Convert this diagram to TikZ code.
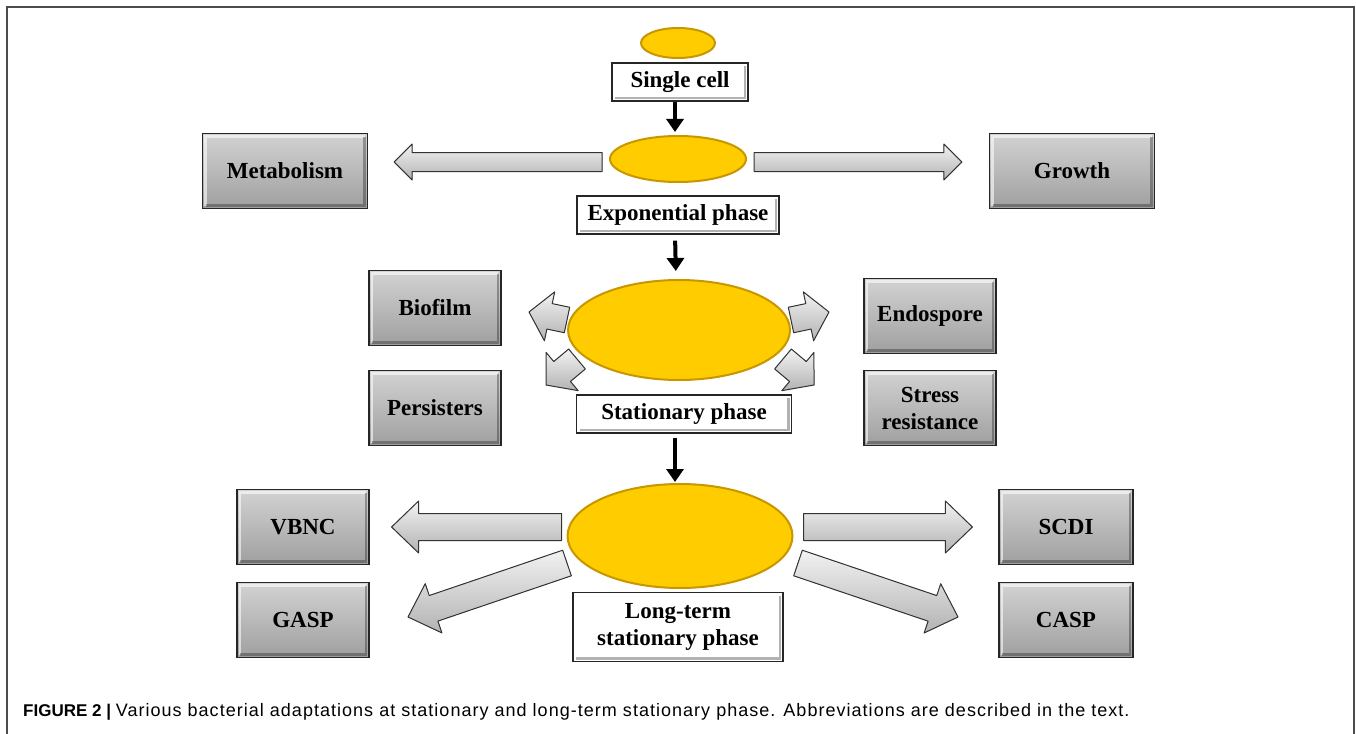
\documentclass[tikz,border=0pt]{standalone}
\usepackage{fontspec}
\setmainfont{Liberation Serif}
\newfontfamily\capfont{Liberation Sans}
\usepackage{tikz}
\usetikzlibrary{arrows.meta}
\usetikzlibrary{calc}
\usetikzlibrary{shapes.geometric}
\definecolor{gold}{RGB}{255,204,0}
\definecolor{darkgold}{RGB}{200,150,0}
\colorlet{frame}{black!70}
\newcommand\bevel{%
  \draw[white,opacity=.6,line width=2.5pt] ([shift={(3pt,3pt)}]path picture bounding box.south west) -- ([shift={(3pt,-3pt)}]path picture bounding box.north west) -- ([shift={(-3pt,-3pt)}]path picture bounding box.north east);
  \draw[black,opacity=.3,line width=2.5pt] ([shift={(-3pt,-3pt)}]path picture bounding box.north east) -- ([shift={(-3pt,3pt)}]path picture bounding box.south east) -- ([shift={(3pt,3pt)}]path picture bounding box.south west);}
\tikzstyle{graybox}=[rectangle,draw=black!85,line width=1.2pt,top color=gray!35,bottom color=gray!75,minimum width=132pt,minimum height=75pt,align=center,font=\fontsize{23}{27}\selectfont\bfseries,path picture={\bevel}]
\tikzstyle{labelbox}=[rectangle,draw=black!85,line width=1.2pt,fill=white,minimum height=38pt,align=center,font=\fontsize{23}{27}\selectfont\bfseries,path picture={\bevel}]
\tikzstyle{cell}=[ellipse,fill=gold,draw=darkgold,line width=2pt,inner sep=0pt]
\tikzstyle{down}=[line width=4pt,-{Triangle[length=13pt,width=17pt]}]
\tikzstyle{blk}=[draw=black!80,line width=1pt,top color=gray!10,bottom color=gray!60,line join=round]
% block arrow: from, to, half shaft, half head, head length
\newcommand\blkarrow[5]{%
  \path (#1); \pgfgetlastxy\ax\ay
  \path (#2); \pgfgetlastxy\bx\by
  \pgfmathsetmacro\arang{atan2(\by-\ay,\bx-\ax)}
  \pgfmathsetmacro\arlen{veclen(\bx-\ax,\by-\ay)}
  \filldraw[blk,shift={(\ax,\ay)},rotate=\arang] (0pt,#3pt) -- (\arlen pt-#5pt,#3pt) -- (\arlen pt-#5pt,#4pt) -- (\arlen pt,0pt) -- (\arlen pt-#5pt,-#4pt) -- (\arlen pt-#5pt,-#3pt) -- (0pt,-#3pt) -- cycle;}

\begin{document}
\begin{tikzpicture}[x=1pt,y=-1pt]
	\useasboundingbox (0,0) rectangle (1356,733);
	\draw[frame,line width=2pt] (7,745) -- (7,7) -- (1354,7) -- (1354,745);
	% cells and phases
	\node[cell,minimum width=74pt,minimum height=30pt]  (e1) at (678,43)  {};
	\node[labelbox,minimum width=136pt] (single) at (680,82)  {Single cell};
	\node[cell,minimum width=136pt,minimum height=46pt] (e2) at (678,159) {};
	\node[labelbox,minimum width=202pt] (expo)   at (678,215) {Exponential phase};
	\node[cell,minimum width=222pt,minimum height=100pt] (e3) at (679,330) {};
	\node[labelbox,minimum width=215pt] (stat)   at (684,414) {Stationary phase};
	\node[cell,minimum width=225pt,minimum height=104pt] (e4) at (680,536) {};
	\node[labelbox,minimum width=210pt,minimum height=69pt] (long) at (678,627) {Long-term\\stationary phase};
	% adaptations
	\node[graybox,minimum width=165pt] (meta) at (285,171)  {Metabolism};
	\node[graybox,minimum width=165pt] (grow) at (1072,171) {Growth};
	\node[graybox] (bio)  at (435,308)  {Biofilm};
	\node[graybox] (pers) at (435,408)  {Persisters};
	\node[graybox] (endo) at (930,316)  {Endospore};
	\node[graybox] (stre) at (930,408)  {Stress\\resistance};
	\node[graybox] (vbnc) at (303,527)  {VBNC};
	\node[graybox] (gasp) at (303,620)  {GASP};
	\node[graybox,minimum width=134pt] (scdi) at (1066,527) {SCDI};
	\node[graybox,minimum width=134pt] (casp) at (1066,620) {CASP};
	% main flow
	\draw[down,shorten >=3pt] ([xshift=-3pt]single.south -| e2) -- ([xshift=-3pt]e2.north);
	\draw[down,shorten <=6pt,shorten >=8pt] ([xshift=-3pt]expo.south) -- ([xshift=-3pt]e3.north);
	\draw[down,shorten <=4pt,shorten >=1pt] ([xshift=-5pt]stat.south -| e4) -- ([xshift=-5pt]e4.north);
	% arrow ends
	\coordinate (metaT) at ([xshift=-7pt,yshift=-3pt]e2.west);
	\coordinate (metaH) at ([xshift=26pt,yshift=9pt]meta.east);
	\coordinate (growT) at ([xshift=7pt,yshift=-3pt]e2.east);
	\coordinate (growH) at ([xshift=-27pt,yshift=9pt]grow.west);
	\coordinate (bioT)  at (567,320);
	\coordinate (bioH)  at (529,312);
	\coordinate (persT) at (577,359);
	\coordinate (persH) at (546,385);
	\coordinate (endoT) at (791,320);
	\coordinate (endoH) at (829,312);
	\coordinate (streT) at (783,359);
	\coordinate (streH) at (814,385);
	\coordinate (vbncT) at ([xshift=-5pt,yshift=9pt]e4.west);
	\coordinate (vbncH) at ([xshift=22pt]vbnc.east);
	\coordinate (gaspT) at (567,563);
	\coordinate (gaspH) at (408,617);
	\coordinate (scdiT) at ([xshift=10pt,yshift=9pt]e4.east);
	\coordinate (scdiH) at ([xshift=-26pt]scdi.west);
	\coordinate (caspT) at (798,563);
	\coordinate (caspH) at (958,617);
	\blkarrow{metaT}{metaH}{9.5}{18}{18}
	\blkarrow{growT}{growH}{9.5}{18}{18}
	\blkarrow{bioT}{bioH}{13}{25}{21}
	\blkarrow{persT}{persH}{13}{25}{21}
	\blkarrow{endoT}{endoH}{13}{25}{21}
	\blkarrow{streT}{streH}{13}{25}{21}
	\blkarrow{vbncT}{vbncH}{13.5}{26}{27}
	\blkarrow{gaspT}{gaspH}{13.5}{26}{27}
	\blkarrow{scdiT}{scdiH}{13.5}{26}{27}
	\blkarrow{caspT}{caspH}{13.5}{26}{27}
	% caption
	\node[anchor=west,inner sep=0pt,font=\capfont\fontsize{17}{20}\selectfont] (cap) at (23,712)
		{\textbf{FIGURE 2 |} {\fontsize{18}{20}\selectfont\addfontfeature{LetterSpace=5.7}Various bacterial adaptations at stationary and long-term stationary phase. Abbreviations are described in the text.}};
\end{tikzpicture}
\end{document}
